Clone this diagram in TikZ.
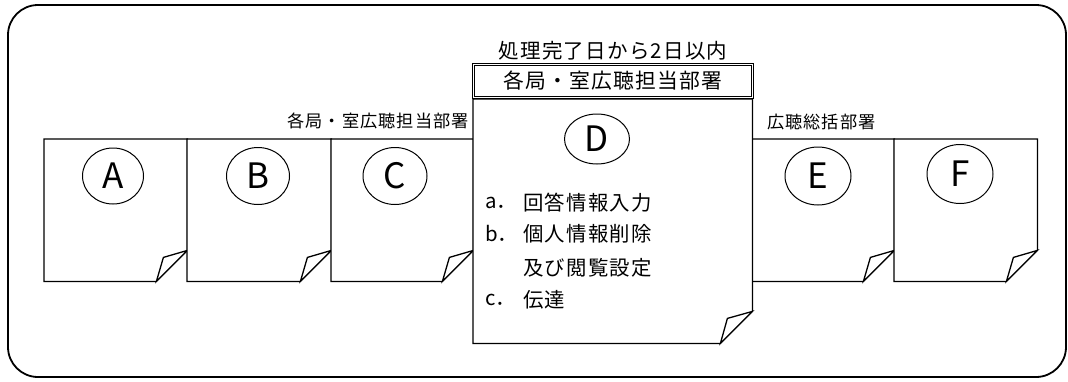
\documentclass[tikz,border=0pt]{standalone}
\usepackage{fontspec}
\setmainfont{Noto Sans CJK JP}[LetterSpace=6]
\newfontfamily\latinfont{Noto Sans CJK JP}
\usetikzlibrary{shapes.geometric,calc}
\tikzset{
  frame/.style={line width=1.8pt, rounded corners=30pt},
  paper/.style={line width=1.3pt, fill=white, line join=miter},
  paperbox/.style={inner sep=0pt, draw=none, anchor=north west},
  lettercircle/.style={draw, ellipse, line width=1pt, inner sep=0pt,
    font=\latinfont\fontsize{35}{35}\selectfont},
  lbl/.style={inner sep=0pt, font=\fontsize{17.2}{17.2}\selectfont},
  biglbl/.style={inner sep=0pt, font=\fontsize{20.5}{20.5}\selectfont},
  header/.style={draw, double, double distance=1.6pt, line width=1.1pt,
    fill=white, inner sep=0pt, minimum width=279pt, minimum height=33pt,
    font=\fontsize{20.8}{20.8}\selectfont},
  dtext/.style={inner sep=0pt, anchor=west, font=\fontsize{20.4}{20.4}\selectfont},
  dprefix/.style={inner sep=0pt, anchor=west, font=\latinfont\fontsize{20.4}{20.4}\selectfont},
}
\newcommand\paperdoc[6]{% name, x0, y0, w, h, fold
  \node[paperbox, minimum width=#4pt, minimum height=#5pt] (#1) at (#2,#3) {};
  \draw[paper] (#1.north west) -- (#1.north east) -- ([yshift=#6pt]#1.south east)
    -- ([xshift=-#6pt]#1.south east) -- (#1.south west) -- cycle;
  \draw[paper] ([xshift=-#6pt]#1.south east) -- ([xshift=-#6pt+7pt,yshift=#6pt-7pt]#1.south east)
    -- ([yshift=#6pt]#1.south east) -- cycle;
}
\begin{document}
\begin{tikzpicture}[x=1pt,y=-1pt]
\useasboundingbox (0,0) rectangle (1068,381);
\draw[frame] (8,5) rectangle (1066,377);

\paperdoc{docA}{44}{139}{143}{142}{31}
\paperdoc{docB}{187}{139}{144}{142}{31}
\paperdoc{docC}{331}{139}{142}{142}{31}
\paperdoc{docE}{752}{139}{142}{142}{31}
\paperdoc{docF}{894}{139}{143}{142}{31}
\paperdoc{docD}{473}{99}{279}{244}{32}

\node[header] (hdr) at (613,81) {各局・室広聴担当部署};
\node[biglbl] (deadline) at (613,51) {処理完了日から2日以内};
\node[lbl, anchor=east] (lblL) at (469,121) {各局・室広聴担当部署};
\node[lbl, anchor=west] (lblR) at (767,122) {広聴総括部署};

\node[lettercircle, minimum width=61pt, minimum height=56pt] (cA) at (113,176) {A};
\node[lettercircle, minimum width=63pt, minimum height=57pt] (cB) at (258,176) {B};
\node[lettercircle, minimum width=64pt, minimum height=57pt] (cC) at (395,176) {C};
\node[lettercircle, minimum width=65pt, minimum height=50pt] (cD) at (597,139) {D};
\node[lettercircle, minimum width=66pt, minimum height=58pt] (cE) at (818,176) {E};
\node[lettercircle, minimum width=66pt, minimum height=59pt] (cF) at (960,174) {F};

\node[dprefix] (pa) at (485,203) {a．};
\node[dtext] (ta) at (523,203) {回答情報入力};
\node[dprefix] (pb) at (485,234) {b．};
\node[dtext] (tb) at (523,234) {個人情報削除};
\node[dtext] (tb2) at (523,268) {及び閲覧設定};
\node[dprefix] (pc) at (485,300) {c．};
\node[dtext] (tc) at (523,300) {伝達};
\end{tikzpicture}
\end{document}
